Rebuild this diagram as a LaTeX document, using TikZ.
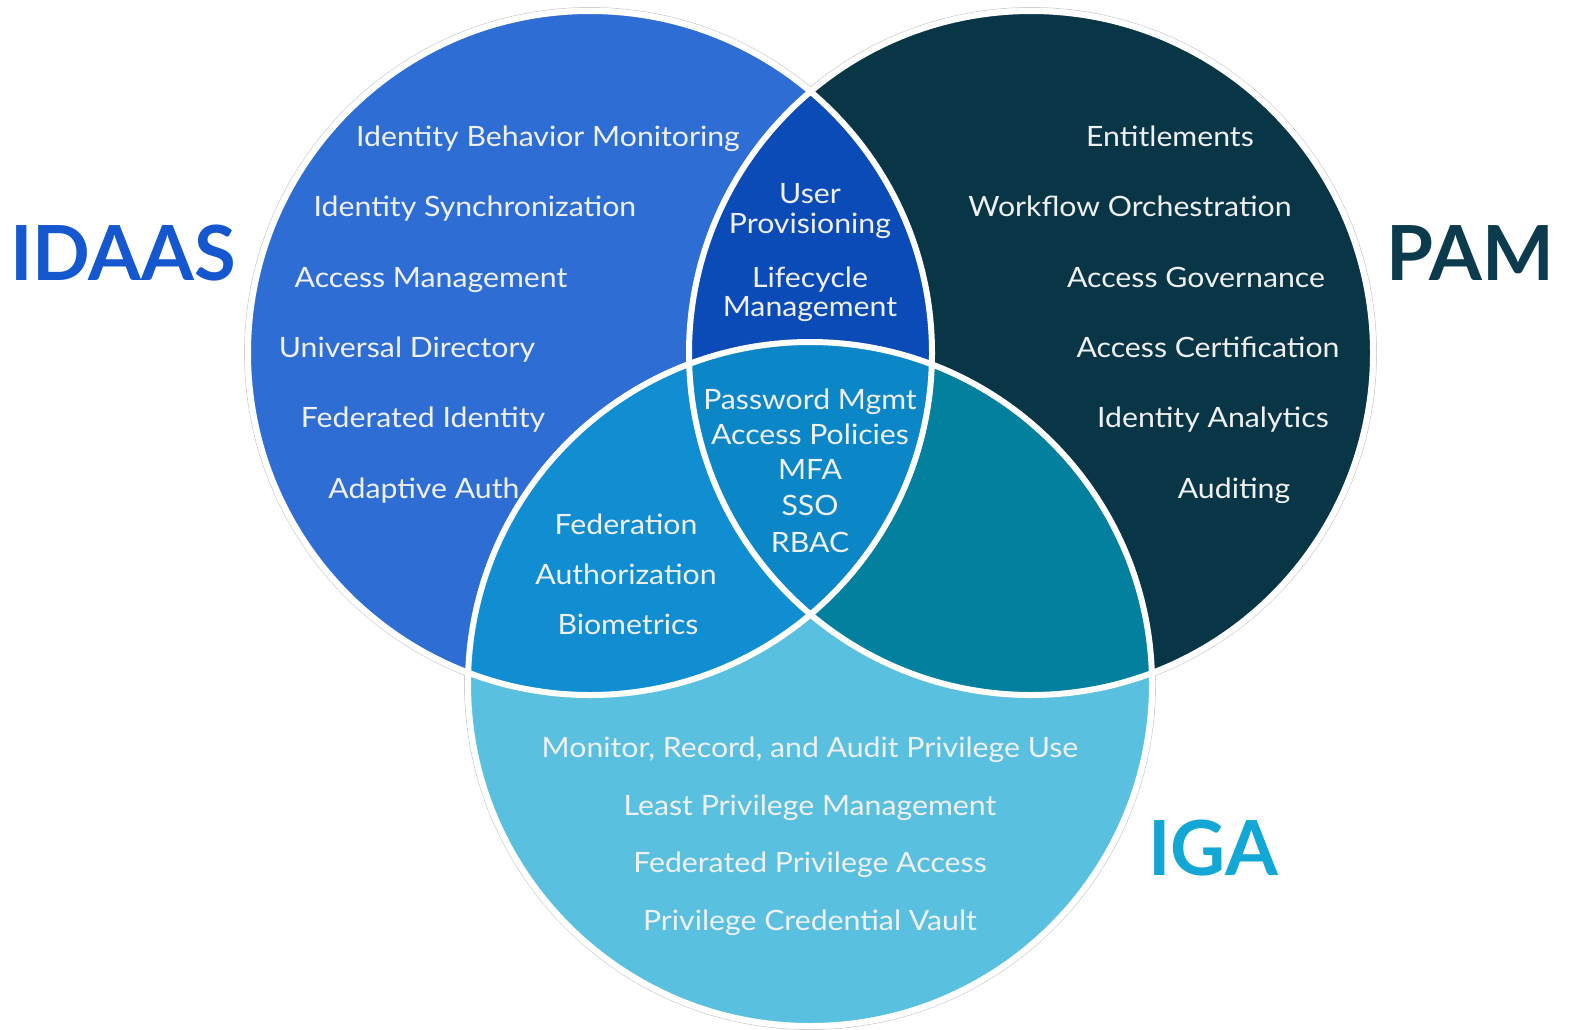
\documentclass[tikz,border=0pt]{standalone}
\usepackage{fontspec}
\setmainfont{Lato}[FakeStretch=1.08]
\newfontfamily\headfont{Lato}
\definecolor{idaasFill}{HTML}{2E6ED4}
\definecolor{pamFill}{HTML}{083647}
\definecolor{igaFill}{HTML}{5AC0DF}
\definecolor{idPam}{HTML}{0A4BB8}
\definecolor{idIga}{HTML}{118DD1}
\definecolor{pamIga}{HTML}{04809F}
\definecolor{allThree}{HTML}{0B87C8}
\definecolor{idaasTitle}{HTML}{1457CF}
\definecolor{pamTitle}{HTML}{0B3B4C}
\definecolor{igaTitle}{HTML}{13A7D5}
\begin{document}
\begin{tikzpicture}[x=1pt,y=-1pt,
  item/.style={text=white!94!black, inner sep=0pt, anchor=base,
    font=\fontsize{28}{28}\selectfont},
  title/.style={inner sep=0pt, anchor=base,
    font=\headfont\fontsize{76}{76}\selectfont\bfseries},
  rim/.style={white, line width=6pt},
  halo/.style={black!18, line width=0.8pt}]
\useasboundingbox (0,0) rectangle (1570,1029);
\fill[white] (0,0) rectangle (1570,1029);

% circle centres and radius
\coordinate (cL) at (590,353);
\coordinate (cR) at (1031,353);
\coordinate (cB) at (810,684);
\def\rad{342}

% faint outer hairline, hidden inside the union
\foreach \c in {cL,cR,cB} \draw[halo] (\c) circle[radius=\rad+3.5];
\foreach \c in {cL,cR,cB} \fill[white] (\c) circle[radius=\rad+3];

% the three sets
\fill[idaasFill] (cL) circle[radius=\rad];
\fill[pamFill] (cR) circle[radius=\rad];
\fill[igaFill] (cB) circle[radius=\rad];

% pairwise overlaps
\begin{scope}
  \clip (cL) circle[radius=\rad];
  \fill[idPam] (cR) circle[radius=\rad];
\end{scope}
\begin{scope}
  \clip (cL) circle[radius=\rad];
  \fill[idIga] (cB) circle[radius=\rad];
\end{scope}
\begin{scope}
  \clip (cR) circle[radius=\rad];
  \fill[pamIga] (cB) circle[radius=\rad];
\end{scope}
% triple overlap
\begin{scope}
  \clip (cL) circle[radius=\rad];
  \clip (cR) circle[radius=\rad];
  \fill[allThree] (cB) circle[radius=\rad];
\end{scope}

% white rims
\foreach \c in {cL,cR,cB} \draw[rim] (\c) circle[radius=\rad];

% titles
\node[title, text=idaasTitle] (tIdaas) at (123,280) {IDAAS};
\node[title, text=pamTitle] (tPam) at (1470,280) {PAM};
\node[title, text=igaTitle] (tIga) at (1213,875) {IGA};

% IDAAS only
\node[item] (i1) at (548,146) {Identity Behavior Monitoring};
\node[item] (i2) at (475,216) {Identity Synchronization};
\node[item] (i3) at (431,287) {Access Management};
\node[item] (i4) at (407,357) {Universal Directory};
\node[item] (i5) at (423,427) {Federated Identity};
\node[item] (i6) at (424,498) {Adaptive Auth};

% PAM only
\node[item] (p1) at (1170,146) {Entitlements};
\node[item] (p2) at (1130,216) {Workflow Orchestration};
\node[item] (p3) at (1196,287) {Access Governance};
\node[item] (p4) at (1208,357) {Access Certification};
\node[item] (p5) at (1213,427) {Identity Analytics};
\node[item] (p6) at (1234,498) {Auditing};

% IDAAS and PAM
\node[item] (lp1) at (810,203) {User};
\node[item] (lp2) at (810,233) {Provisioning};
\node[item] (lp3) at (810,287) {Lifecycle};
\node[item] (lp4) at (810,316) {Management};

% all three
\node[item] (c1) at (810,409) {Password Mgmt};
\node[item] (c2) at (810,444) {Access Policies};
\node[item] (c3) at (810,479) {MFA};
\node[item] (c4) at (810,515) {SSO};
\node[item] (c5) at (810,552) {RBAC};

% IDAAS and IGA
\node[item] (li1) at (626,534) {Federation};
\node[item] (li2) at (626,584) {Authorization};
\node[item] (li3) at (628,634) {Biometrics};

% IGA only
\node[item] (g1) at (810,757) {Monitor, Record, and Audit Privilege Use};
\node[item] (g2) at (810,815) {Least Privilege Management};
\node[item] (g3) at (810,872) {Federated Privilege Access};
\node[item] (g4) at (810,930) {Privilege Credential Vault};
\end{tikzpicture}
\end{document}
